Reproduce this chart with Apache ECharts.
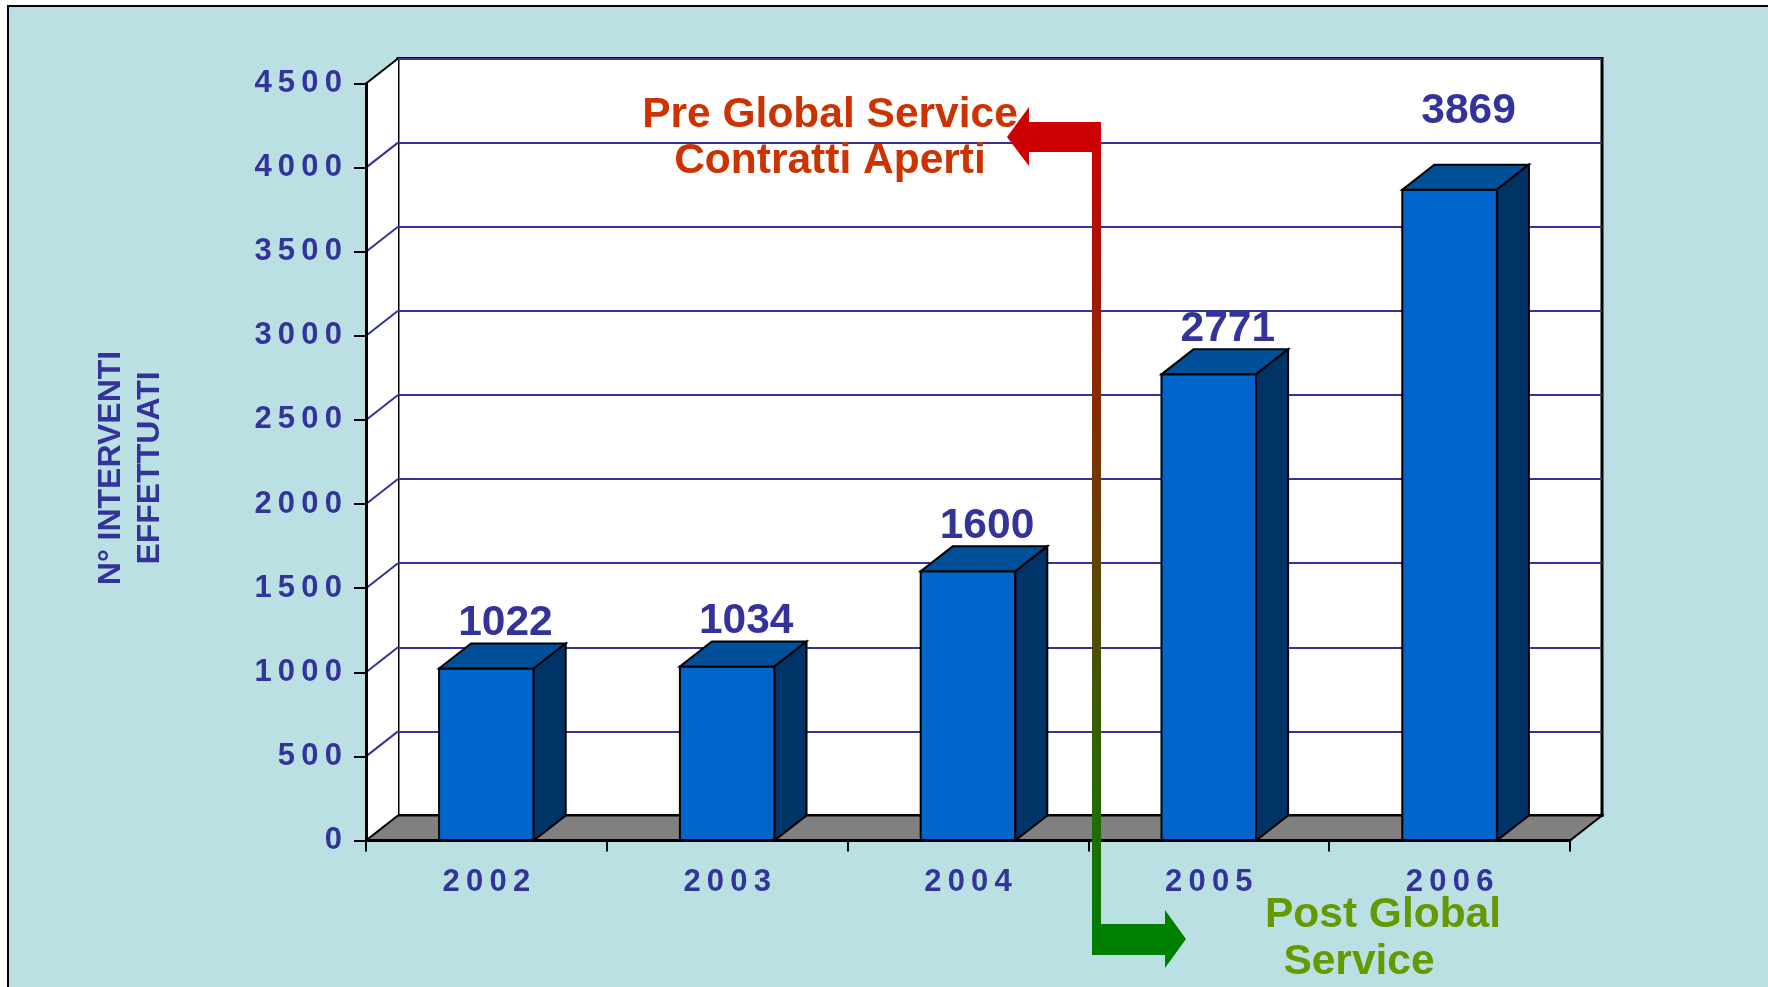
<!DOCTYPE html>
<html>
<head>
<meta charset="utf-8">
<title>Interventi effettuati</title>
<script src="https://cdn.jsdelivr.net/npm/echarts@6/dist/echarts.min.js"></script>
<style>
  html, body { margin: 0; padding: 0; background: #fff; }
  #main { width: 1768px; height: 987px; }
</style>
</head>
<body>
<div id="main"></div>
<script>
// dati del grafico
var anni = ['2002', '2003', '2004', '2005', '2006'];
var interventi = [1022, 1034, 1600, 2771, 3869];
var tickValori = [0, 500, 1000, 1500, 2000, 2500, 3000, 3500, 4000, 4500];
var titoloAsse = ['N° INTERVENTI', 'EFFETTUATI'];
var notaPre = ['Pre Global Service', 'Contratti Aperti'];
var notaPost = ['Post Global', 'Service'];

var yMax = tickValori[tickValori.length - 1];
var yStep = tickValori[1] - tickValori[0];

var FONT = '"Liberation Sans", Arial, sans-serif';
var BLU = '#333399';
var DX = 32, DY = 25;          // profondita' dell'effetto 3D
var LARGHEZZA_BARRA = 0.393;   // frazione della banda
// l'etichetta del 2006 sta piu' in alto nell'originale
var sollevaEtichetta = { 4: 33 };

function spaziato(s) {
  return String(s).split('').join('\u2009');
}

// pareti laterali e pavimento
function disegnaPareti(params, api) {
  var o = api.coord([0, 0]);
  var band = api.size([1, 0])[0];
  var x0 = o[0] - band / 2;
  var x1 = x0 + band * anni.length;
  var yb = o[1];
  var yt = api.coord([0, yMax])[1];
  var figli = [];
  figli.push({
    type: 'polygon',
    shape: { points: [[x0, yb], [x0, yt], [x0 + DX, yt - DY], [x0 + DX, yb - DY]] },
    style: { fill: '#fff' }
  });
  tickValori.forEach(function (v) {
    if (v === 0) return;
    var y = api.coord([0, v])[1];
    figli.push({
      type: 'line',
      shape: { x1: x0, y1: y, x2: x0 + DX, y2: y - DY },
      style: { stroke: v === yMax ? '#000' : BLU, lineWidth: 2 }
    });
  });
  figli.push({
    type: 'polygon',
    shape: { points: [[x0, yb], [x1, yb], [x1 + DX, yb - DY], [x0 + DX, yb - DY]] },
    style: { fill: '#808080', stroke: '#000', lineWidth: 2 }
  });
  return { type: 'group', children: figli };
}

function disegnaBarra(params, api) {
  var i = api.value(0);
  var v = api.value(1);
  var cima = api.coord([i, v]);
  var base = api.coord([i, 0]);
  var bw = api.size([1, 0])[0] * LARGHEZZA_BARRA;
  var xl = cima[0] - bw / 2;
  var xr = xl + bw;
  var yt = cima[1];
  var yb = base[1];
  var bordo = { stroke: '#000', lineWidth: 2 };
  var extra = sollevaEtichetta[params.dataIndex] || 0;
  return {
    type: 'group',
    children: [
      {
        type: 'rect',
        shape: { x: xl, y: yt, width: bw, height: yb - yt },
        style: Object.assign({ fill: '#0066CC' }, bordo)
      },
      {
        type: 'polygon',
        shape: { points: [[xl, yt], [xr, yt], [xr + DX, yt - DY], [xl + DX, yt - DY]] },
        style: Object.assign({ fill: '#004F99' }, bordo)
      },
      {
        type: 'polygon',
        shape: { points: [[xr, yt], [xr + DX, yt - DY], [xr + DX, yb - DY], [xr, yb]] },
        style: Object.assign({ fill: '#003366' }, bordo)
      },
      {
        type: 'text',
        style: {
          text: String(v),
          x: cima[0] + 19,
          y: yt - DY - 20 - extra,
          fill: BLU,
          font: 'bold 42.5px ' + FONT,
          align: 'center',
          verticalAlign: 'middle',
          textAlign: 'center',
          textVerticalAlign: 'middle'
        }
      }
    ]
  };
}

var chart = echarts.init(document.getElementById('main'), null, { renderer: 'canvas' });

var stileEtichetta = {
  color: BLU,
  fontSize: 31,
  fontWeight: 'bold',
  fontFamily: FONT,
  margin: 24,
  formatter: spaziato
};

var FONT_NOTE = 'bold 42.5px ' + FONT;

chart.setOption({
  animation: false,
  grid: [
    // piano frontale (assi)
    { left: 366, top: 83.5, width: 1204, height: 757, outerBoundsMode: 'none' },
    // parete di fondo
    {
      left: 366 + DX, top: 83.5 - DY, width: 1204, height: 757, outerBoundsMode: 'none',
      show: true, backgroundColor: '#fff', borderColor: '#000', borderWidth: 3
    }
  ],
  xAxis: [
    {
      gridIndex: 0, type: 'category', data: anni, z: 5,
      axisLine: { lineStyle: { color: '#000', width: 3 } },
      axisTick: { show: true, length: 11, lineStyle: { color: '#000', width: 2 } },
      axisLabel: Object.assign({}, stileEtichetta, { margin: 26 }),
      splitLine: { show: false }
    },
    { gridIndex: 1, type: 'category', data: anni, show: false }
  ],
  yAxis: [
    {
      gridIndex: 0, type: 'value', min: 0, max: yMax, interval: yStep, z: 5,
      axisLine: { show: true, lineStyle: { color: '#000', width: 3 } },
      axisTick: { show: true, length: 12, lineStyle: { color: '#000', width: 2 } },
      axisLabel: stileEtichetta,
      splitLine: { show: false }
    },
    {
      gridIndex: 1, type: 'value', min: 0, max: yMax, interval: yStep,
      axisLine: { show: false }, axisTick: { show: false }, axisLabel: { show: false },
      splitLine: { show: true, lineStyle: { color: BLU, width: 2 } }
    }
  ],
  series: [
    {
      type: 'custom', name: 'pareti', xAxisIndex: 0, yAxisIndex: 0, z: 2,
      data: [[0, 0]], renderItem: disegnaPareti, silent: true
    },
    {
      type: 'custom', name: 'Interventi', xAxisIndex: 0, yAxisIndex: 0, z: 3,
      data: interventi.map(function (v, i) { return [i, v]; }),
      renderItem: disegnaBarra
    }
  ],
  graphic: [
    {
      type: 'rect', z: -10, silent: true,
      shape: { x: 8, y: 6, width: 1800, height: 1000 },
      style: { fill: '#BBE0E3', stroke: '#000', lineWidth: 2 }
    },
    {
      type: 'text', z: 20, x: 131, y: 468, rotation: Math.PI / 2,
      style: {
        text: titoloAsse.join('\n'), fill: BLU, font: 'bold 32px ' + FONT,
        lineHeight: 39, textAlign: 'center', textVerticalAlign: 'middle'
      }
    },
    {
      type: 'text', z: 20, x: 830, y: 115,
      style: { text: notaPre[0], fill: '#CC3300', font: FONT_NOTE, textAlign: 'center', textVerticalAlign: 'middle' }
    },
    {
      type: 'text', z: 20, x: 830, y: 161,
      style: { text: notaPre[1], fill: '#CC3300', font: FONT_NOTE, textAlign: 'center', textVerticalAlign: 'middle' }
    },
    {
      type: 'text', z: 20, x: 1383, y: 915,
      style: { text: notaPost[0], fill: '#669900', font: FONT_NOTE, textAlign: 'center', textVerticalAlign: 'middle' }
    },
    {
      type: 'text', z: 20, x: 1359, y: 962,
      style: { text: notaPost[1], fill: '#669900', font: FONT_NOTE, textAlign: 'center', textVerticalAlign: 'middle' }
    },
    // linea di separazione pre/post
    {
      type: 'rect', z: 20, silent: true,
      shape: { x: 1092, y: 122, width: 9, height: 833 },
      style: {
        fill: new echarts.graphic.LinearGradient(0, 0, 0, 1, [
          { offset: 0, color: '#CC0000' },
          { offset: 1, color: '#008000' }
        ])
      }
    },
    {
      type: 'polygon', z: 21, silent: true,
      shape: { points: [[1007, 137], [1029, 107], [1029, 122], [1101, 122], [1101, 152], [1029, 152], [1029, 166]] },
      style: { fill: '#CC0000' }
    },
    {
      type: 'polygon', z: 21, silent: true,
      shape: { points: [[1092, 924], [1165, 924], [1165, 910], [1186, 939], [1165, 968], [1165, 955], [1092, 955]] },
      style: { fill: '#008000' }
    }
  ]
});
</script>
</body>
</html>
